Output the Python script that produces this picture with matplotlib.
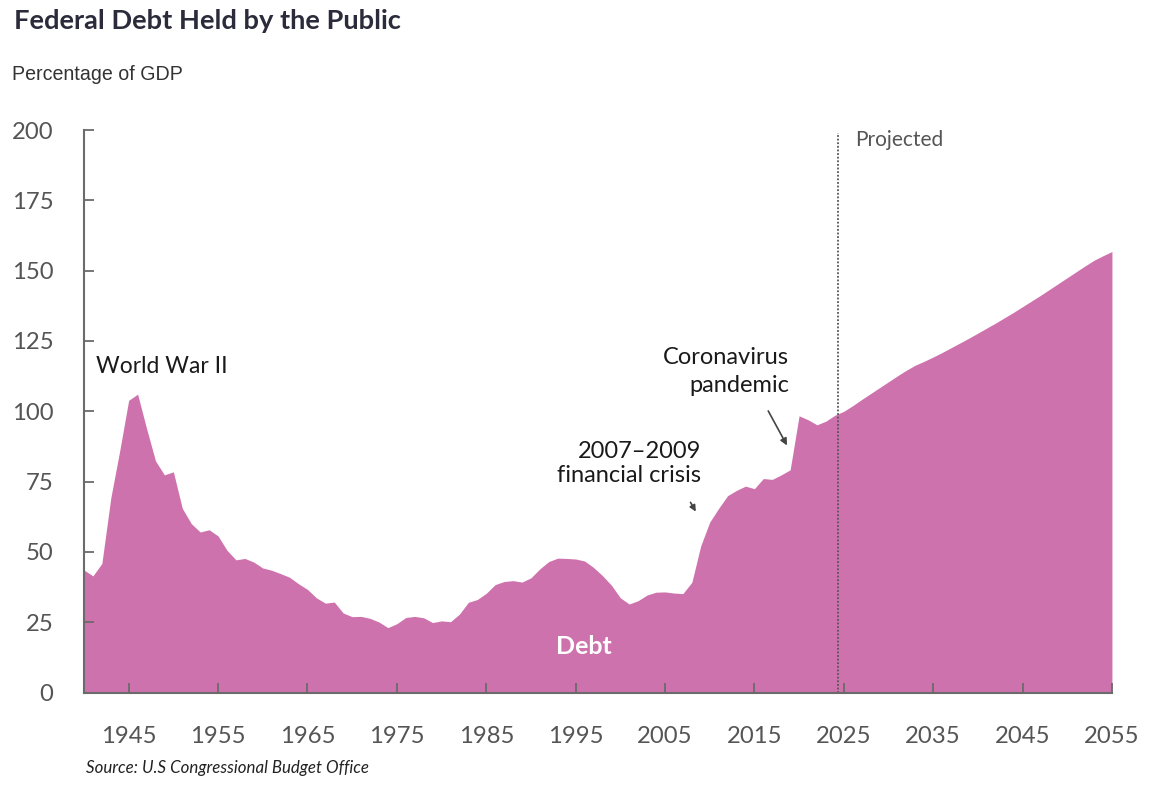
import matplotlib
matplotlib.use('Agg')
import matplotlib.pyplot as plt

# Federal debt held by the public, % of GDP
years_hist = list(range(1940, 2025))
debt_hist = [
    43.6, 41.5, 45.9, 69.2, 86.0, 103.9, 106.1, 93.9, 82.4, 77.4,   # 1940s
    78.5, 65.5, 60.1, 57.1, 57.9, 55.7, 50.6, 47.2, 47.7, 46.4,     # 1950s
    44.3, 43.5, 42.3, 41.0, 38.7, 36.7, 33.7, 31.8, 32.2, 28.3,     # 1960s
    27.0, 27.1, 26.4, 25.1, 23.1, 24.5, 26.7, 27.1, 26.6, 24.9,     # 1970s
    25.5, 25.2, 27.9, 32.1, 33.1, 35.3, 38.4, 39.5, 39.8, 39.3,     # 1980s
    40.8, 44.0, 46.6, 47.8, 47.7, 47.5, 46.8, 44.5, 41.6, 38.2,     # 1990s
    33.7, 31.5, 32.7, 34.7, 35.7, 35.8, 35.4, 35.2, 39.2, 52.2,     # 2000s
    60.6, 65.5, 70.0, 71.9, 73.4, 72.5, 76.1, 75.8, 77.4, 79.2,     # 2010s
    98.4, 97.0, 95.2, 96.5, 98.6,                                   # 2020-2024
]
years_proj = list(range(2025, 2056))
debt_proj = [
    100.0, 102.0, 104.2, 106.3, 108.4, 110.5, 112.6, 114.6, 116.4, 117.8,
    119.3, 120.9, 122.6, 124.3, 126.0, 127.8, 129.6, 131.4, 133.3, 135.2,
    137.2, 139.2, 141.2, 143.3, 145.4, 147.5, 149.6, 151.7, 153.7, 155.3,
    156.8,
]
years = years_hist + years_proj
debt = debt_hist + debt_proj

x_ticks = list(range(1945, 2056, 10))
y_ticks = list(range(0, 201, 25))
projection_start = 2024.4

FILL = '#CE72AD'
AXIS = '#6b6b6b'
TICK_TEXT = '#555555'
FONT = 'Lato'

fig = plt.figure(figsize=(11.68, 7.86), dpi=100)
ax = fig.add_axes([0.0719, 0.1188, 0.952 - 0.0719, 0.8346 - 0.1188])

ax.fill_between(years, debt, 0, color=FILL, linewidth=0)
ax.axvline(projection_start, ymin=0, ymax=0.995, color='#555555',
           linestyle=(0, (1.0, 1.0)), linewidth=1.3)

ax.set_xlim(1940, 2055)
ax.set_ylim(0, 200)
ax.set_xticks(x_ticks)
ax.set_yticks(y_ticks)
ax.tick_params(axis='both', direction='in', length=7, width=1.3, color=AXIS,
               labelcolor=TICK_TEXT, labelsize=17.2)
ax.tick_params(axis='x', pad=24)
ax.tick_params(axis='y', pad=22)
for lab in ax.get_xticklabels() + ax.get_yticklabels():
    lab.set_fontfamily(FONT)

for side in ['top', 'right']:
    ax.spines[side].set_visible(False)
for side in ['left', 'bottom']:
    ax.spines[side].set_color(AXIS)
    ax.spines[side].set_linewidth(1.5)

# Annotations
ax.text(1941.4, 116, 'World War II', fontsize=16.5, family=FONT,
        color='#1a1a1a', ha='left', va='center')
ax.text(2018.9, 114.1, 'Coronavirus\npandemic', fontsize=17, family=FONT,
        color='#1a1a1a', ha='right', va='center', linespacing=1.45)
ax.annotate('', xy=(2018.8, 87), xytext=(2016.4, 101),
            arrowprops=dict(arrowstyle='-|>', color='#444444', lw=1.2,
                            mutation_scale=10))
ax.text(2009.0, 81.5, '2007\u20132009\nfinancial crisis', fontsize=17,
        family=FONT, color='#1a1a1a', ha='right', va='center',
        linespacing=1.2)
ax.annotate('', xy=(2008.6, 63.5), xytext=(2007.7, 68.5),
            arrowprops=dict(arrowstyle='-|>', color='#444444', lw=1.2,
                            mutation_scale=9))
ax.text(1995.9, 16.5, 'Debt', fontsize=18, family=FONT, weight='bold',
        color='white', ha='center', va='center')
ax.text(2026.3, 196.5, 'Projected', fontsize=15, family=FONT,
        color='#555555', ha='left', va='center')

# Titles and source
fig.text(14 / 1168, 1 - 21 / 786, 'Federal Debt Held by the Public',
         fontsize=19.6, family=FONT, weight='bold', color='#2b2b3b',
         ha='left', va='center')
fig.text(12 / 1168, 1 - 75 / 786, 'Percentage of GDP', fontsize=14.1,
         family='Liberation Sans', color='#333333', ha='left', va='center')
fig.text(86 / 1168, 1 - 768 / 786, 'Source: U.S Congressional Budget Office',
         fontsize=12.2, family=FONT, style='italic', color='#222222',
         ha='left', va='center')

fig.savefig('out.png', dpi=100)
